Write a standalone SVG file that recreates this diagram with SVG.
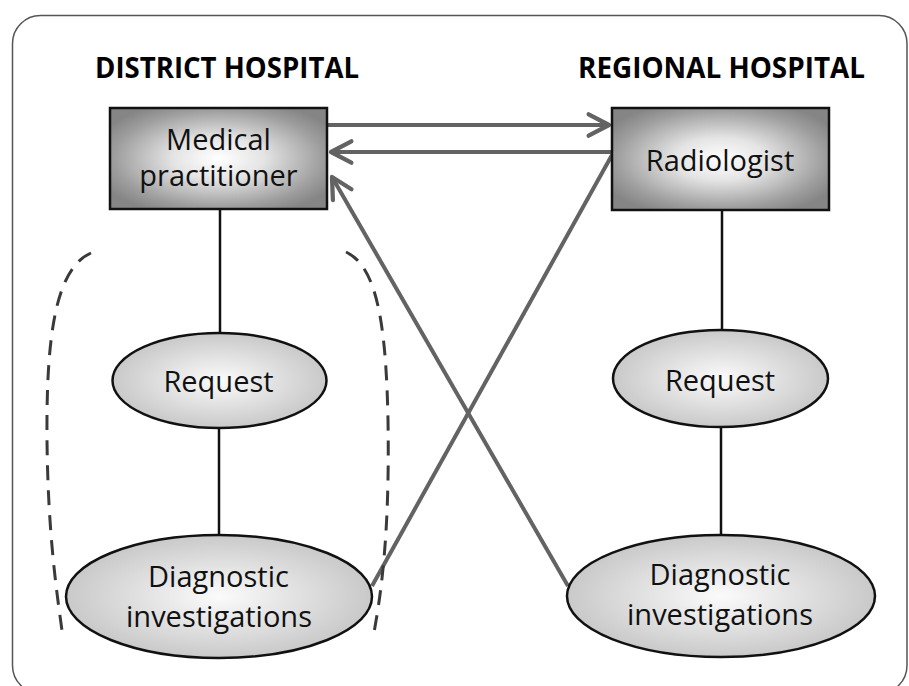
<svg xmlns="http://www.w3.org/2000/svg" width="909" height="686" viewBox="0 0 909 686">
<style>
.frame{fill:none;stroke:#555;stroke-width:1.5}
.head{font-family:"Open Sans","Liberation Sans",sans-serif;font-weight:bold;font-size:28px;fill:#000;text-anchor:middle}
.lbl{font-family:"Open Sans","Liberation Sans",sans-serif;font-size:29px;fill:#111;text-anchor:middle}
.box{fill:url(#boxGrad);stroke:#111;stroke-width:2.5}
.oval{fill:url(#ovalGrad);stroke:#111;stroke-width:2.5}
.link{stroke:#111;stroke-width:2.5;fill:none}
.arrow{stroke:#636363;stroke-width:4;fill:none}
.dash{stroke:#3a3a3a;stroke-width:3;fill:none;stroke-dasharray:15 10}
</style>
<defs>
<radialGradient id="boxGrad" cx="0.5" cy="0.5" r="0.6">
<stop offset="0" stop-color="#ffffff"/>
<stop offset="0.35" stop-color="#e4e4e4"/>
<stop offset="0.8" stop-color="#9e9e9e"/>
<stop offset="1" stop-color="#858585"/>
</radialGradient>
<radialGradient id="ovalGrad" cx="0.5" cy="0.5" r="0.5">
<stop offset="0" stop-color="#fbfbfb"/>
<stop offset="1" stop-color="#c9c9c9"/>
</radialGradient>
<marker id="chev" markerUnits="userSpaceOnUse" markerWidth="30" markerHeight="30" viewBox="-24 -14 28 28" refX="0" refY="0" orient="auto">
<path d="M-19,-10 L0,0 L-19,10" fill="none" stroke="#636363" stroke-width="4" stroke-linecap="round" stroke-linejoin="round"/>
</marker>
</defs>
<rect width="909" height="686" fill="#fff"/>
<rect class="frame" x="12.5" y="15.5" width="894.5" height="678" rx="28" ry="28"/>
<text class="head" x="227" y="77.5" textLength="264" lengthAdjust="spacingAndGlyphs">DISTRICT HOSPITAL</text>
<text class="head" x="721.5" y="77.5" textLength="287" lengthAdjust="spacingAndGlyphs">REGIONAL HOSPITAL</text>
<g id="connectors">
<line class="link" x1="220" y1="210" x2="220" y2="333"/>
<line class="link" x1="219" y1="428" x2="219" y2="535"/>
<line class="link" x1="722" y1="211" x2="722" y2="330"/>
<line class="link" x1="721" y1="427" x2="721" y2="535"/>
<line class="arrow" x1="328" y1="125" x2="609" y2="125" marker-end="url(#chev)"/>
<line class="arrow" x1="611" y1="152" x2="331" y2="152" marker-end="url(#chev)"/>
<line class="arrow" x1="612" y1="155" x2="372" y2="586"/>
<line class="arrow" x1="568" y1="586" x2="332" y2="177" marker-end="url(#chev)"/>
</g>
<g id="boundary">
<path class="dash" d="M91,253 C57,268 46,330 47,440 C48,540 58,600 63,638"/>
<path class="dash" d="M346,252 C376,266 386,320 388,420 C390,540 380,600 373,638"/>
</g>
<g id="medical-practitioner">
<rect class="box" x="110" y="108" width="217" height="101"/>
<text class="lbl" x="218.5" y="150">Medical</text>
<text class="lbl" x="218.5" y="186">practitioner</text>
</g>
<g id="radiologist">
<rect class="box" x="612" y="108" width="217" height="102"/>
<text class="lbl" x="720" y="170.5">Radiologist</text>
</g>
<g id="request-district">
<ellipse class="oval" cx="219.5" cy="380.5" rx="107" ry="47.5"/>
<text class="lbl" x="218.5" y="391.5">Request</text>
</g>
<g id="diagnostic-district">
<ellipse class="oval" cx="219" cy="596.5" rx="153" ry="61.5"/>
<text class="lbl" x="218.5" y="586.5">Diagnostic</text>
<text class="lbl" x="219" y="626.5">investigations</text>
</g>
<g id="request-regional">
<ellipse class="oval" cx="720.5" cy="378.5" rx="107.5" ry="48.5"/>
<text class="lbl" x="720" y="390.5">Request</text>
</g>
<g id="diagnostic-regional">
<ellipse class="oval" cx="721" cy="596" rx="154" ry="61"/>
<text class="lbl" x="720" y="585">Diagnostic</text>
<text class="lbl" x="720" y="625">investigations</text>
</g>
</svg>
